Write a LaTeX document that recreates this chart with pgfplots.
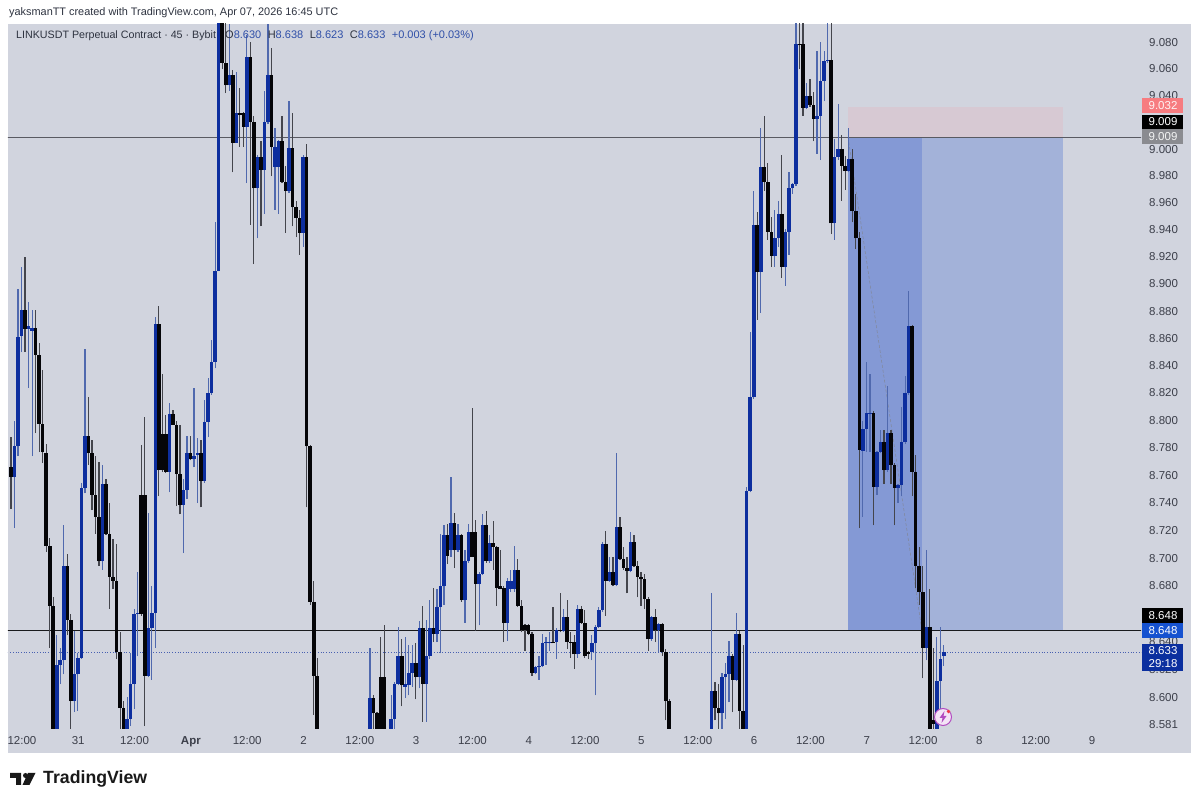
\documentclass[border=0pt]{standalone}
\usepackage{pgfplots}
\usepackage{pgfplotstable}
\usepackage{fontspec}
\pgfplotsset{compat=1.18}
\setmainfont{Liberation Sans}
\definecolor{panel}{HTML}{D1D4DE}
\definecolor{upb}{HTML}{0D2E9E}
\definecolor{upw}{HTML}{5069AE}
\definecolor{dnb}{HTML}{050508}
\definecolor{dnw}{HTML}{44454C}
\definecolor{tickc}{HTML}{3C3F4A}
\definecolor{zoneA}{HTML}{8499D5}
\definecolor{zoneB}{HTML}{A3B2D9}
\definecolor{zoneR}{HTML}{D7C9D3}
\definecolor{hdr}{HTML}{2E3340}
\definecolor{valc}{HTML}{2F4FA8}
\definecolor{bdgR}{HTML}{F77C80}
\definecolor{bdgG}{HTML}{8A8B90}
\definecolor{bdgB}{HTML}{1652D0}
\definecolor{bdgD}{HTML}{0B2F9F}
\definecolor{bolt}{HTML}{B24BC0}
\definecolor{reddot}{HTML}{F23645}
% n low high bodybottom bodytop
\pgfplotstableread{
n l h b t
1 8.722 8.800 8.759 8.781
2 8.774 8.897 8.781 8.861
3 8.850 8.913 8.862 8.881
5 8.824 8.887 8.867 8.869
6 8.774 8.881 8.866 8.868
13 8.550 8.645 8.550 8.624
14 8.610 8.636 8.624 8.627
15 8.617 8.724 8.627 8.695
18 8.590 8.648 8.598 8.617
19 8.591 8.632 8.617 8.629
20 8.628 8.755 8.629 8.751
21 8.747 8.852 8.751 8.789
26 8.692 8.768 8.698 8.754
33 8.550 8.601 8.550 8.585
34 8.580 8.632 8.585 8.610
35 8.592 8.664 8.610 8.660
36 8.630 8.690 8.660 8.661
39 8.615 8.733 8.616 8.650
40 8.613 8.680 8.650 8.661
41 8.636 8.876 8.661 8.871
45 8.748 8.813 8.763 8.805
49 8.704 8.758 8.739 8.750
50 8.743 8.789 8.750 8.776
52 8.766 8.824 8.772 8.774
53 8.740 8.787 8.775 8.776
55 8.755 8.815 8.756 8.799
56 8.788 8.831 8.799 8.820
57 8.819 8.859 8.820 8.843
58 8.838 8.946 8.843 8.910
59 8.910 9.150 8.910 9.150
62 9.044 9.094 9.048 9.056
64 9.005 9.058 9.005 9.027
67 8.975 9.086 9.017 9.069
70 8.934 8.996 8.971 8.994
72 8.952 9.044 8.985 9.020
73 9.019 9.094 9.020 9.056
75 8.955 9.016 8.987 9.002
76 8.952 9.007 8.987 9.006
79 8.968 9.036 8.969 9.001
83 8.928 8.996 8.938 8.994
102 8.550 8.636 8.550 8.600
108 8.550 8.602 8.550 8.585
109 8.550 8.611 8.585 8.610
110 8.609 8.651 8.610 8.630
112 8.600 8.644 8.608 8.610
113 8.602 8.638 8.609 8.618
114 8.608 8.638 8.618 8.625
116 8.607 8.655 8.615 8.650
118 8.583 8.656 8.610 8.630
119 8.628 8.670 8.630 8.650
121 8.640 8.678 8.646 8.665
122 8.632 8.718 8.665 8.680
123 8.667 8.724 8.680 8.717
125 8.701 8.759 8.706 8.726
127 8.705 8.725 8.706 8.717
129 8.654 8.706 8.670 8.698
130 8.697 8.725 8.698 8.719
133 8.652 8.690 8.682 8.689
134 8.688 8.732 8.689 8.724
136 8.697 8.717 8.698 8.711
141 8.641 8.686 8.654 8.684
142 8.676 8.692 8.678 8.684
143 8.676 8.709 8.678 8.692
149 8.617 8.623 8.618 8.622
150 8.613 8.630 8.622 8.623
151 8.622 8.646 8.623 8.639
152 8.624 8.644 8.639 8.640
153 8.634 8.647 8.639 8.640
155 8.628 8.650 8.640 8.649
157 8.647 8.664 8.648 8.658
161 8.629 8.667 8.631 8.664
165 8.627 8.645 8.633 8.639
166 8.602 8.652 8.639 8.651
167 8.650 8.665 8.651 8.663
168 8.662 8.712 8.663 8.710
170 8.683 8.701 8.684 8.690
172 8.680 8.776 8.681 8.723
176 8.690 8.719 8.691 8.712
182 8.641 8.659 8.642 8.658
184 8.633 8.654 8.649 8.653
199 8.550 8.675 8.550 8.605
202 8.576 8.618 8.589 8.615
203 8.585 8.625 8.615 8.617
204 8.597 8.641 8.617 8.630
206 8.612 8.661 8.613 8.646
209 8.550 8.752 8.550 8.749
210 8.748 8.865 8.749 8.817
211 8.816 8.969 8.817 8.944
213 8.879 9.016 8.909 8.987
217 8.913 8.955 8.921 8.934
218 8.928 8.962 8.934 8.952
220 8.899 8.941 8.913 8.939
221 8.922 8.983 8.939 8.971
222 8.967 8.975 8.971 8.974
223 8.973 9.150 8.974 9.079
226 9.030 9.050 9.031 9.040
229 8.997 9.074 9.023 9.025
230 8.992 9.081 9.025 9.051
231 9.036 9.074 9.051 9.066
232 9.065 9.150 9.066 9.067
234 8.933 9.008 8.945 8.994
235 8.992 9.034 8.994 9.000
238 8.983 9.016 8.984 8.993
242 8.730 8.800 8.778 8.794
243 8.777 8.843 8.794 8.806
244 8.777 8.834 8.805 8.806
246 8.746 8.778 8.752 8.777
247 8.776 8.793 8.777 8.784
249 8.763 8.825 8.764 8.791
252 8.740 8.754 8.751 8.753
253 8.745 8.810 8.753 8.784
254 8.783 8.833 8.784 8.820
255 8.819 8.895 8.820 8.869
260 8.627 8.706 8.636 8.651
263 8.550 8.644 8.550 8.612
264 8.589 8.651 8.612 8.628
265 8.623 8.638 8.630 8.633
}\upcandles
\pgfplotstableread{
n l h b t
0 8.736 8.788 8.759 8.766
4 8.850 8.920 8.867 8.881
7 8.791 8.881 8.848 8.868
8 8.777 8.857 8.798 8.848
9 8.769 8.837 8.777 8.798
10 8.705 8.783 8.709 8.776
11 8.636 8.715 8.666 8.709
12 8.550 8.672 8.550 8.666
16 8.645 8.703 8.656 8.695
17 8.577 8.660 8.598 8.656
22 8.768 8.817 8.776 8.789
23 8.735 8.786 8.746 8.776
24 8.718 8.774 8.730 8.746
25 8.695 8.770 8.698 8.730
27 8.717 8.758 8.718 8.754
28 8.664 8.740 8.687 8.718
29 8.678 8.714 8.684 8.687
30 8.628 8.710 8.633 8.684
31 8.576 8.647 8.593 8.633
32 8.550 8.598 8.550 8.593
37 8.659 8.782 8.660 8.746
38 8.580 8.803 8.616 8.746
42 8.745 8.884 8.764 8.871
43 8.763 8.834 8.764 8.790
44 8.762 8.804 8.763 8.790
46 8.797 8.808 8.797 8.805
47 8.738 8.800 8.761 8.797
48 8.732 8.797 8.739 8.761
51 8.771 8.789 8.772 8.776
54 8.737 8.786 8.756 8.776
60 9.060 9.150 9.065 9.150
61 9.042 9.150 9.048 9.065
63 8.983 9.059 9.005 9.056
65 9.002 9.046 9.026 9.027
66 9.002 9.028 9.017 9.027
68 8.944 9.081 9.020 9.069
69 8.915 9.025 8.971 9.020
71 8.943 9.006 8.985 8.994
74 8.980 9.076 9.002 9.056
77 8.975 9.025 8.976 9.006
78 8.938 8.988 8.969 8.976
80 8.943 9.027 8.957 9.001
81 8.935 8.962 8.949 8.957
82 8.922 8.955 8.938 8.949
84 8.737 9.004 8.781 8.994
85 8.667 8.782 8.669 8.781
86 8.588 8.684 8.616 8.669
87 8.550 8.629 8.550 8.616
103 8.550 8.602 8.589 8.600
104 8.550 8.590 8.550 8.589
105 8.550 8.644 8.550 8.615
106 8.550 8.652 8.550 8.615
111 8.594 8.642 8.609 8.630
115 8.599 8.639 8.615 8.625
117 8.583 8.666 8.610 8.650
120 8.640 8.679 8.646 8.650
124 8.696 8.725 8.702 8.717
126 8.693 8.733 8.706 8.726
128 8.669 8.718 8.670 8.717
131 8.701 8.809 8.701 8.719
132 8.648 8.728 8.682 8.719
135 8.697 8.734 8.698 8.724
137 8.692 8.727 8.708 8.711
138 8.666 8.709 8.679 8.708
139 8.678 8.706 8.678 8.680
140 8.640 8.680 8.654 8.679
144 8.665 8.700 8.666 8.692
145 8.647 8.670 8.649 8.666
146 8.634 8.653 8.649 8.652
147 8.645 8.653 8.646 8.652
148 8.616 8.647 8.618 8.646
154 8.639 8.665 8.639 8.640
156 8.647 8.675 8.648 8.649
158 8.635 8.670 8.640 8.658
159 8.629 8.647 8.639 8.640
160 8.621 8.645 8.631 8.640
162 8.653 8.666 8.654 8.664
163 8.629 8.663 8.630 8.654
164 8.628 8.634 8.631 8.633
169 8.659 8.720 8.684 8.710
171 8.680 8.701 8.681 8.690
173 8.699 8.730 8.700 8.723
174 8.692 8.708 8.693 8.700
175 8.675 8.701 8.691 8.693
177 8.694 8.717 8.695 8.712
178 8.672 8.698 8.687 8.695
179 8.666 8.690 8.685 8.687
180 8.664 8.689 8.671 8.685
181 8.634 8.672 8.642 8.671
183 8.640 8.664 8.649 8.658
185 8.630 8.654 8.633 8.653
186 8.584 8.635 8.598 8.633
187 8.550 8.599 8.550 8.598
200 8.584 8.611 8.593 8.605
201 8.576 8.610 8.589 8.593
205 8.590 8.631 8.613 8.630
207 8.577 8.648 8.591 8.646
208 8.550 8.638 8.550 8.591
212 8.874 8.953 8.909 8.944
214 8.969 9.025 8.976 8.987
215 8.933 8.990 8.939 8.976
216 8.913 8.950 8.921 8.939
219 8.905 8.996 8.913 8.952
224 9.060 9.150 9.078 9.079
225 9.025 9.150 9.031 9.079
227 9.032 9.053 9.033 9.040
228 9.006 9.043 9.023 9.033
233 8.937 9.150 8.945 9.067
236 8.962 9.011 8.988 9.000
237 8.970 8.995 8.984 8.988
239 8.946 9.000 8.954 8.993
240 8.926 8.967 8.934 8.954
241 8.722 8.939 8.779 8.934
245 8.724 8.807 8.752 8.806
248 8.754 8.793 8.764 8.784
250 8.754 8.793 8.768 8.791
251 8.724 8.769 8.751 8.768
256 8.745 8.870 8.763 8.869
257 8.679 8.775 8.695 8.763
258 8.667 8.708 8.676 8.695
259 8.614 8.695 8.636 8.676
261 8.550 8.678 8.550 8.651
262 8.576 8.636 8.582 8.584
}\downcandles
\begin{document}
\begin{tikzpicture}[x=1pt,y=1pt]
\fill[white] (0,0) rectangle (1200,805);
\fill[panel] (8,52) rectangle (1191,781);
\begin{axis}[
  at={(8pt,76pt)}, anchor=south west, scale only axis,
  width=1133pt, height=705pt,
  xmin=-0.852, xmax=321.02,
  ymin=2.149165, ymax=2.207593,
  axis line style={draw=none},
  major tick length=0pt, minor tick length=0pt,
  ytick={2.149550,2.151762,2.154085,2.156403,2.158715,2.161022,2.163323,2.165619,2.167910,2.170196,2.172476,2.174752,2.177022,2.179287,2.181547,2.183802,2.186051,2.188296,2.190536,2.192770,2.195000,2.197225,2.199444,2.201659,2.203869,2.206074},
  yticklabels={8.581,8.600,8.620,8.640,8.660,8.680,8.700,8.720,8.740,8.760,8.780,8.800,8.820,8.840,8.860,8.880,8.900,8.920,8.940,8.960,8.980,9.000,9.020,9.040,9.060,9.080},
  yticklabel pos=right,
  yticklabel style={font=\fontsize{11.5}{13}\selectfont, text=tickc, anchor=west, xshift=8pt, inner sep=0pt},
  xtick={3.1,19.1,35.1,51.1,67.1,83.1,99.1,115.1,131.1,147.1,163.1,179.1,195.1,211.1,227.1,243.1,259.1,275.1,291.1,307.1},
  xticklabels={12:00,31,12:00,\textbf{Apr},12:00,2,12:00,3,12:00,4,12:00,5,12:00,6,12:00,7,12:00,8,12:00,9},
  xticklabel style={font=\fontsize{11.5}{13}\selectfont, text=tickc, anchor=base, yshift=-16pt, inner sep=0pt},
  tick align=outside,
  clip=true,
]
% short position zones (price levels in table, plotted on the log price scale)
\addplot[fill=zoneR, draw=none, forget plot] table[x=n, y expr=ln(\thisrow{p})] {
n p
237.8 9.009
298.9 9.009
298.9 9.032
237.8 9.032
};
\addplot[fill=zoneA, draw=none, forget plot] table[x=n, y expr=ln(\thisrow{p})] {
n p
237.8 8.648
258.8 8.648
258.8 9.009
237.8 9.009
};
\addplot[fill=zoneB, draw=none, forget plot] table[x=n, y expr=ln(\thisrow{p})] {
n p
258.8 8.648
298.9 8.648
298.9 9.009
258.8 9.009
};
\addplot[draw=gray!70!zoneA, densely dashed, line width=0.5pt, forget plot] table[x=n, y expr=ln(\thisrow{p})] {
n p
237.8 9.009
258.8 8.648
};
% levels
\addplot[draw=dnw!85!panel, line width=1.5pt, forget plot] table[x=n, y expr=ln(\thisrow{p})] {
n p
-1 9.009
322 9.009
};
\addplot[draw=dnb!90!panel, line width=1pt, forget plot] table[x=n, y expr=ln(\thisrow{p})] {
n p
-1 8.648
322 8.648
};
\addplot[draw=upb!70!panel, line width=0.7pt, dotted, forget plot] table[x=n, y expr=ln(\thisrow{p})] {
n p
-1 8.633
322 8.633
};
% wicks
\addplot[draw=none, mark=none, forget plot, error bars/.cd, y dir=plus, y explicit, error mark=none, error bar style={draw=upw, line width=1.2pt}]
  table[x=n, y expr=ln(\thisrow{l}), y error expr=ln(\thisrow{h})-ln(\thisrow{l})] {\upcandles};
\addplot[draw=none, mark=none, forget plot, error bars/.cd, y dir=plus, y explicit, error mark=none, error bar style={draw=dnw, line width=1.2pt}]
  table[x=n, y expr=ln(\thisrow{l}), y error expr=ln(\thisrow{h})-ln(\thisrow{l})] {\downcandles};
% bodies
\addplot[draw=none, mark=none, forget plot, error bars/.cd, y dir=plus, y explicit, error mark=none, error bar style={draw=upb, line width=3.6pt}]
  table[x=n, y expr=ln(\thisrow{b}), y error expr=ln(\thisrow{t})-ln(\thisrow{b})] {\upcandles};
\addplot[draw=none, mark=none, forget plot, error bars/.cd, y dir=plus, y explicit, error mark=none, error bar style={draw=dnb, line width=3.6pt}]
  table[x=n, y expr=ln(\thisrow{b}), y error expr=ln(\thisrow{t})-ln(\thisrow{b})] {\downcandles};
\end{axis}
% price badges
\tikzset{badge/.style={font=\fontsize{11.5}{13}\selectfont, anchor=center, inner sep=0pt}}
\fill[bdgR] (1142,692) rectangle (1183,707);
\node[badge, text=white!90!bdgR] at (1163,699.5) {9.032};
\fill[black] (1142,676) rectangle (1183,690);
\node[badge, text=white] at (1163,683) {9.009};
\fill[bdgG] (1142,661) rectangle (1183,675.5);
\node[badge, text=white!90!bdgG] at (1163,668) {9.009};
\fill[black] (1142,182) rectangle (1183,197);
\node[badge, text=white] at (1163,189.5) {8.648};
\fill[bdgB] (1142,167) rectangle (1183,182);
\node[badge, text=white] at (1163,174.5) {8.648};
\fill[bdgD] (1142,134) rectangle (1183,161);
\node[badge, text=white] at (1163,154) {8.633};
\node[badge, text=white] at (1163,141) {29:18};
% header and legend
\node[anchor=west, inner sep=0pt, text=hdr, font=\fontsize{10.9}{13}\selectfont] at (9,792) {yaksmanTT created with TradingView.com, Apr 07, 2026 16:45 UTC};
\node[anchor=west, inner sep=0pt, text=hdr, font=\fontsize{10.7}{13}\selectfont] at (16,769) {LINKUSDT Perpetual Contract · 45 · Bybit};
\node[anchor=west, inner sep=0pt, font=\fontsize{11}{13}\selectfont, text=hdr] at (225,769) {O\textcolor{valc}{8.630}\hspace{6.5pt}H\textcolor{valc}{8.638}\hspace{6.5pt}L\textcolor{valc}{8.623}\hspace{6.5pt}C\textcolor{valc}{8.633}\hspace{6.5pt}\textcolor{valc}{+0.003 (+0.03\%)}};
% logo
\fill[black!90] (10,32) -- (21,32) -- (21,20) -- (16,20) -- (16,27) -- (10,27) -- cycle;
\fill[black!90] (25.5,29.5) circle (2.5);
\fill[black!90] (28,32) -- (35.5,32) -- (29.5,20) -- (22.5,20) -- cycle;
\node[anchor=west, inner sep=0pt, font=\fontsize{17.7}{22}\selectfont\bfseries, text=black!90] at (43,26) {TradingView};
% alert icon
\fill[white!85!bolt] (943,88) circle (8.5);
\draw[bolt, line width=1pt] (943,88) circle (8.5);
\fill[bolt] (944.5,94) -- (939.5,87) -- (942.5,87) -- (941.5,82) -- (946.5,89) -- (943.5,89) -- cycle;
\fill[reddot] (948.5,93.5) circle (1.8);
\end{tikzpicture}
\end{document}
